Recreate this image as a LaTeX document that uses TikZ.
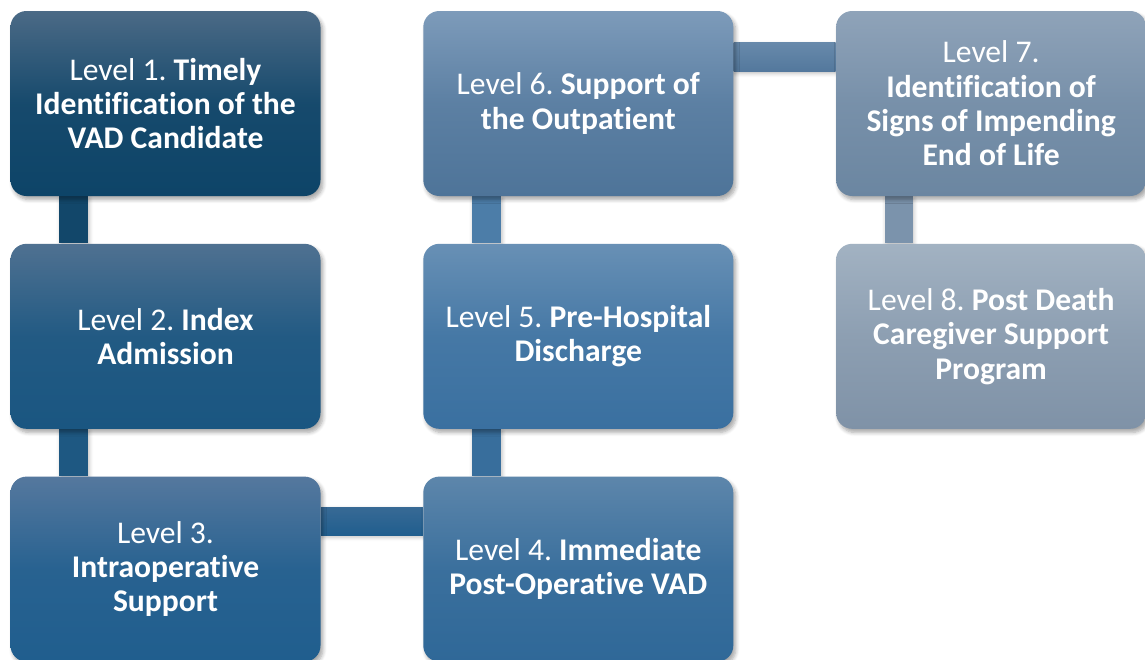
\documentclass[tikz,border=0pt]{standalone}
\usepackage{fontspec}
\setmainfont[Ligatures=NoCommon]{Carlito}
\frenchspacing
\usetikzlibrary{positioning,shadows.blur,backgrounds}
% box shades, top / bottom
\definecolor{ta}{HTML}{4B6A86}\definecolor{ba}{HTML}{0D4468}
\definecolor{tb}{HTML}{4F7191}\definecolor{bb}{HTML}{1A5681}
\definecolor{tc}{HTML}{55789E}\definecolor{bc}{HTML}{205E8E}
\definecolor{td}{HTML}{5D86AB}\definecolor{bd}{HTML}{2F6898}
\definecolor{te}{HTML}{6890B5}\definecolor{be}{HTML}{3A70A0}
\definecolor{tf}{HTML}{7D9BBA}\definecolor{bf}{HTML}{4E7499}
\definecolor{tg}{HTML}{8FA3B9}\definecolor{bg}{HTML}{6B86A1}
\definecolor{th}{HTML}{A2B2C2}\definecolor{bh}{HTML}{7F92A7}
\tikzset{
  lvl/.style={rounded corners=8pt, minimum width=155pt, minimum height=92.5pt,
    inner sep=0pt, align=center, text=white, font=\fontsize{15.8}{17.2}\selectfont,
    blur shadow={shadow xshift=1.2pt, shadow yshift=-1.8pt, shadow blur steps=6, shadow opacity=35}},
  bar/.style={blur shadow={shadow xshift=0.6pt, shadow yshift=-1pt, shadow blur steps=4, shadow opacity=25}}
}
\begin{document}
\begin{tikzpicture}
  \useasboundingbox (0,0) rectangle (572.5pt,-329.5pt);
  % the eight levels
  \node[lvl, top color=ta, bottom color=ba, middle color=ba!85!ta] (l1) at (82.75pt,-51.75pt)
    {Level 1. \textbf{Timely}\\\textbf{Identification of the}\\\textbf{VAD Candidate}};
  \node[lvl, top color=tb, bottom color=bb, middle color=bb!85!tb, below=23.5pt of l1] (l2)
    {Level 2. \textbf{Index}\\\textbf{Admission}};
  \node[lvl, top color=tc, bottom color=bc, middle color=bc!85!tc, below=23.5pt of l2] (l3)
    {Level 3.\\\textbf{Intraoperative}\\\textbf{Support}};
  \node[lvl, top color=td, bottom color=bd, middle color=bd!75!td, right=51pt of l3] (l4)
    {Level 4. \textbf{Immediate}\\\textbf{Post-Operative VAD}};
  \node[lvl, top color=te, bottom color=be, middle color=be!75!te, above=23.5pt of l4] (l5)
    {Level 5. \textbf{Pre-Hospital}\\\textbf{Discharge}};
  \node[lvl, top color=tf, bottom color=bf, middle color=bf!70!tf, above=23.5pt of l5] (l6)
    {Level 6. \textbf{Support of}\\\textbf{the Outpatient}};
  \node[lvl, top color=tg, bottom color=bg, middle color=bg!65!tg, right=51pt of l6] (l7)
    {Level 7.\\\textbf{Identification of}\\\textbf{Signs of Impending}\\\textbf{End of Life}};
  \node[lvl, top color=th, bottom color=bh, middle color=bh!60!th, below=23.5pt of l7] (l8)
    {Level 8. \textbf{Post Death}\\\textbf{Caregiver Support}\\\textbf{Program}};
  % joining bars, behind the boxes
  \begin{scope}[on background layer]
    \fill[bar, ba!92!ta] ([xshift=24.5pt]l1.south west) rectangle ([xshift=39pt]l2.north west);
    \fill[bar, bb!92!tb] ([xshift=24.5pt]l2.south west) rectangle ([xshift=39pt]l3.north west);
    \shade[bar, top color=bc!55!tc, bottom color=bc] ([yshift=-15.5pt]l3.north east) rectangle ([yshift=-29.5pt]l4.north west);
    \fill[bar, bd!80!td] ([xshift=24.5pt]l4.north west) rectangle ([xshift=39pt]l5.south west);
    \fill[bar, be!60!te] ([xshift=24.5pt]l5.north west) rectangle ([xshift=39pt]l6.south west);
    \shade[bar, top color=bf!45!tf, bottom color=bf!90!tf] ([yshift=-16pt]l6.north east) rectangle ([yshift=-30.5pt]l7.north west);
    \fill[bar, bg!55!tg] ([xshift=24.5pt]l7.south west) rectangle ([xshift=38.5pt]l8.north west);
  \end{scope}
\end{tikzpicture}
\end{document}
